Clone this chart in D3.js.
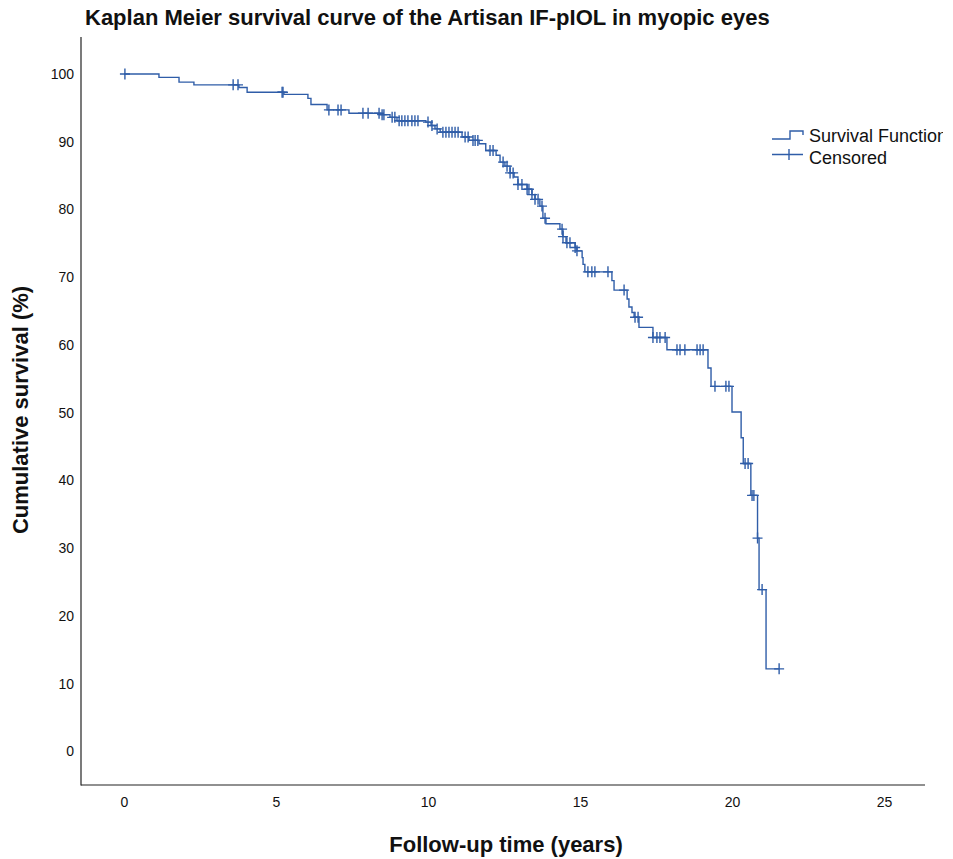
<!DOCTYPE html>
<html>
<head>
<meta charset="utf-8">
<script src="https://cdn.jsdelivr.net/npm/d3@7"></script>
<style>
  html, body { margin: 0; padding: 0; background: #fff; }
  svg { display: block; font-family: "Liberation Sans", Arial, Helvetica, sans-serif; }
</style>
</head>
<body>
<svg id="chart" width="953" height="859"></svg>
<script>
// Kaplan–Meier estimate: times (years) at which the survival drops, and the survival (%) after each drop
const eventTimes = [1.15, 1.81, 2.30, 3.78, 4.05, 5.26, 6.05, 6.15, 6.68, 7.40,
  8.45, 8.75, 8.98, 9.93, 10.10, 10.23, 10.40, 11.12, 11.35, 11.68,
  11.90, 12.24, 12.37, 12.53, 12.70, 12.83, 12.96, 13.26, 13.42, 13.52,
  13.68, 13.78, 13.88, 14.34, 14.44, 14.54, 14.84, 14.90, 15.07, 15.10,
  15.16, 16.05, 16.12, 16.55, 16.61, 16.71, 16.78, 16.94, 17.40, 17.86,
  19.21, 19.31, 20.00, 20.30, 20.37, 20.62, 20.84, 20.89, 21.12];
const survivalPct = [99.5, 98.8, 98.4, 98.0, 97.3, 97.0, 96.4, 95.5, 94.7, 94.2,
  94.0, 93.6, 93.1, 92.9, 92.4, 91.9, 91.4, 90.7, 90.2, 89.7,
  88.7, 88.0, 87.0, 86.4, 85.4, 84.8, 83.7, 83.0, 82.2, 81.5,
  80.5, 78.7, 77.9, 77.1, 76.0, 75.1, 74.4, 73.9, 72.9, 71.9,
  70.8, 69.5, 68.1, 66.8, 65.6, 64.8, 64.1, 62.6, 61.1, 59.3,
  56.6, 53.9, 50.1, 46.3, 42.5, 37.8, 31.5, 23.9, 12.2];

// Censored follow-up times (years)
const censorTimes = [0.03, 3.59, 3.75, 5.20, 5.23, 6.74, 7.04, 7.14, 7.86, 8.03,
  8.39, 8.49, 8.55, 8.82, 8.91, 9.05, 9.14, 9.24, 9.34, 9.47,
  9.57, 9.67, 10.00, 10.13, 10.30, 10.49, 10.59, 10.69, 10.79, 10.89,
  10.99, 11.22, 11.32, 11.48, 11.55, 11.64, 12.04, 12.14, 12.47, 12.60,
  12.70, 12.80, 12.96, 13.09, 13.26, 13.32, 13.42, 13.52, 13.62, 13.75,
  13.85, 14.41, 14.44, 14.57, 14.67, 14.84, 14.90, 15.26, 15.39, 15.49,
  15.92, 16.45, 16.81, 16.91, 17.40, 17.53, 17.63, 17.80, 18.19, 18.29,
  18.45, 18.85, 18.95, 19.05, 19.44, 19.80, 19.90, 20.43, 20.53, 20.66,
  20.72, 20.84, 20.99, 21.55];

const xTicks = [0, 5, 10, 15, 20, 25];
const yTicks = [0, 10, 20, 30, 40, 50, 60, 70, 80, 90, 100];

const titleText = "Kaplan Meier survival curve of the Artisan IF-pIOL in myopic eyes";
const xTitle = "Follow-up time (years)";
const yTitle = "Cumulative survival (%)";
const legendItems = ["Survival Function", "Censored"];

const curveColor = "#2f5da8";

const svg = d3.select("#chart");

const x = d3.scaleLinear().domain([0, 25]).range([124, 884]);
const y = d3.scaleLinear().domain([0, 100]).range([751.5, 74]);

// survival value at time t (right-continuous step function)
function survivalAt(t) {
  const i = d3.bisectRight(eventTimes, t);
  return i === 0 ? 100 : survivalPct[i - 1];
}

// Axis frame
const plotLeft = 81, plotRight = 925, plotTop = 37, plotBottom = 785;
svg.append("line").attr("x1", plotLeft).attr("x2", plotLeft)
  .attr("y1", plotTop).attr("y2", plotBottom + 0.5)
  .attr("stroke", "#222").attr("stroke-width", 1.2);
svg.append("line").attr("x1", plotLeft).attr("x2", plotRight)
  .attr("y1", plotBottom).attr("y2", plotBottom)
  .attr("stroke", "#222").attr("stroke-width", 1.2);

// Tick labels (axes without tick marks)
const yAxis = d3.axisLeft(y).tickValues(yTicks).tickSize(0).tickPadding(0);
const gy = svg.append("g").attr("transform", "translate(74,0)").call(yAxis);
gy.select(".domain").remove();
gy.selectAll("text").attr("font-size", 14).attr("fill", "#111")
  .attr("font-family", "Liberation Sans, Arial, sans-serif");

const xAxis = d3.axisBottom(x).tickValues(xTicks).tickSize(0).tickPadding(0);
const gx = svg.append("g").attr("transform", "translate(0,797)").call(xAxis);
gx.select(".domain").remove();
gx.selectAll("text").attr("font-size", 14).attr("fill", "#111")
  .attr("font-family", "Liberation Sans, Arial, sans-serif");

// Survival step curve
const lastTime = censorTimes[censorTimes.length - 1];
const pts = [[0, 100]].concat(eventTimes.map((t, i) => [t, survivalPct[i]]));
pts.push([lastTime, survivalPct[survivalPct.length - 1]]);
const line = d3.line().x(d => x(d[0])).y(d => y(d[1])).curve(d3.curveStepAfter);
svg.append("path").datum(pts).attr("d", line)
  .attr("fill", "none").attr("stroke", curveColor).attr("stroke-width", 1.4);

// Censor marks
const hw = 5, hh = 5.5;
svg.append("g").selectAll("path").data(censorTimes).join("path")
  .attr("d", t => {
    const cx = x(t), cy = y(survivalAt(t));
    return `M${cx - hw},${cy}H${cx + hw}M${cx},${cy - hh}V${cy + hh}`;
  })
  .attr("fill", "none").attr("stroke", curveColor).attr("stroke-width", 1.4);

// Titles
svg.append("text").attr("x", 85).attr("y", 25)
  .attr("font-size", 22).attr("font-weight", "bold").attr("fill", "#111")
  .text(titleText);
svg.append("text").attr("x", 506).attr("y", 852).attr("text-anchor", "middle")
  .attr("font-size", 22).attr("font-weight", "bold").attr("fill", "#111")
  .text(xTitle);
svg.append("text").attr("transform", "translate(28,410) rotate(-90)")
  .attr("text-anchor", "middle")
  .attr("font-size", 22).attr("font-weight", "bold").attr("fill", "#111")
  .text(yTitle);

// Legend (clipped at the right edge)
svg.append("clipPath").attr("id", "legclip")
  .append("rect").attr("x", 760).attr("y", 110).attr("width", 183).attr("height", 70);
const leg = svg.append("g").attr("clip-path", "url(#legclip)");
leg.append("path").attr("d", "M772,139H790V131H803V135")
  .attr("fill", "none").attr("stroke", curveColor).attr("stroke-width", 1.4);
leg.append("path").attr("d", "M772,154.5H803M789,149V160")
  .attr("fill", "none").attr("stroke", curveColor).attr("stroke-width", 1.4);
leg.selectAll("text").data(legendItems).join("text")
  .attr("x", 809).attr("y", (d, i) => 142 + i * 22)
  .attr("font-size", 18).attr("fill", "#111")
  .text(d => d);
</script>
</body>
</html>
